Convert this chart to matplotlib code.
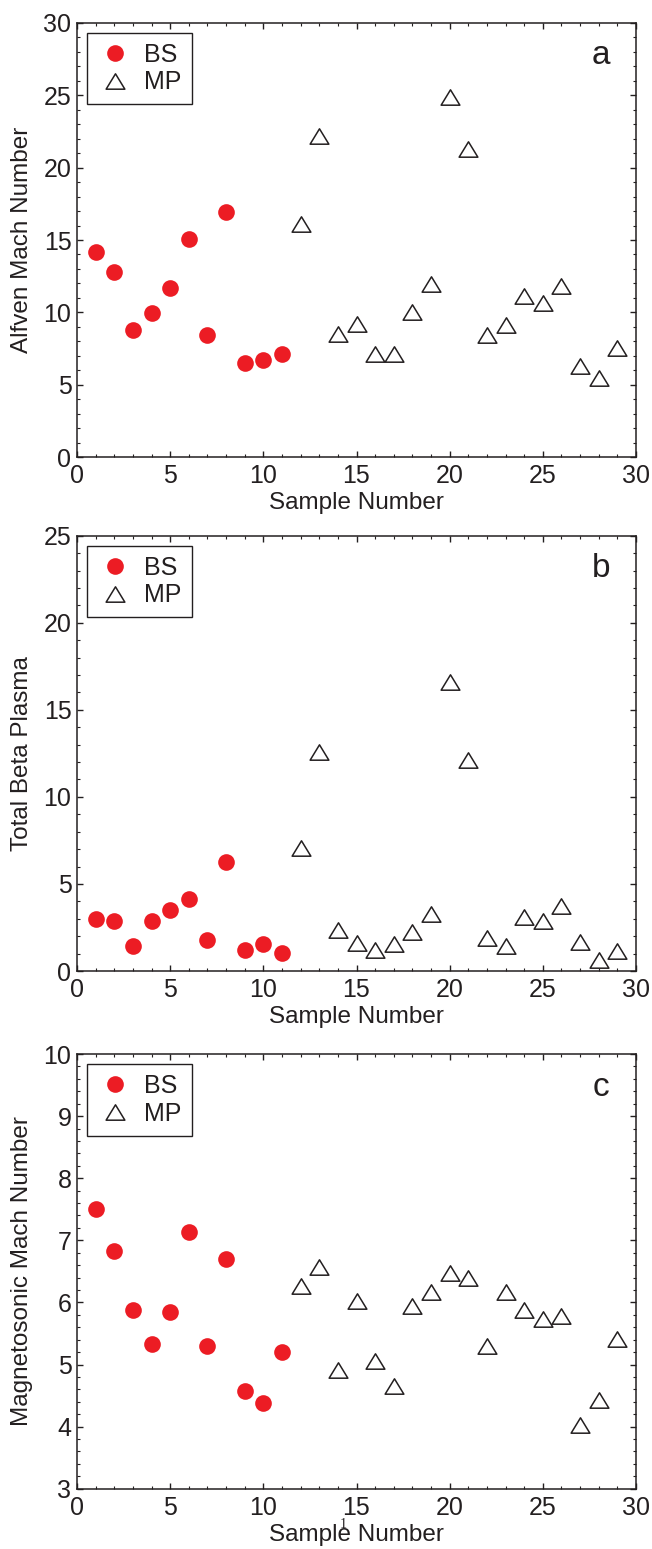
import matplotlib
matplotlib.use("Agg")
import matplotlib.pyplot as plt
from matplotlib.path import Path
from matplotlib.ticker import MultipleLocator

# ---------------- data ----------------
bs_samples = [1, 2, 3, 4, 5, 6, 7, 8, 9, 10, 11]
mp_samples = [12, 13, 14, 15, 16, 17, 18, 19, 20, 21, 22, 23, 24, 25, 26, 27, 28, 29]

bs_alfven = [14.15, 12.77, 8.76, 9.98, 11.66, 15.07, 8.44, 16.95, 6.49, 6.74, 7.15]
mp_alfven = [16.1, 22.2, 8.49, 9.18, 7.13, 7.1, 10.05, 11.94, 24.87, 21.28,
             8.46, 9.13, 11.15, 10.65, 11.8, 6.32, 5.45, 7.52]

bs_beta = [2.97, 2.89, 1.45, 2.87, 3.50, 4.12, 1.80, 6.26, 1.19, 1.57, 1.05]
mp_beta = [7.07, 12.6, 2.34, 1.59, 1.21, 1.55, 2.22, 3.27, 16.6, 12.14,
           1.88, 1.45, 3.12, 2.89, 3.75, 1.68, 0.63, 1.13]

bs_ms = [7.50, 6.83, 5.87, 5.33, 5.85, 7.13, 5.30, 6.70, 4.57, 4.38, 5.20]
mp_ms = [6.27, 6.57, 4.91, 6.02, 5.05, 4.66, 5.94, 6.17, 6.48, 6.39,
         5.29, 6.17, 5.87, 5.74, 5.78, 4.03, 4.43, 5.41]

ylabels = ["Alfven Mach Number", "Total Beta Plasma", "Magnetosonic Mach Number"]
panel_letters = ["a", "b", "c"]
ylims = [(0, 30), (0, 25), (3, 10)]
y_major = [5, 5, 1]
y_minor = [1, 1, 0.2]
xlabel = "Sample Number"
legend_labels = ["BS", "MP"]

# ---------------- style ----------------
INK = "#231F20"
RED = "#EC1C24"
plt.rcParams["font.family"] = ["Liberation Sans", "DejaVu Sans"]
plt.rcParams["text.color"] = INK
plt.rcParams["axes.edgecolor"] = INK
plt.rcParams["xtick.color"] = INK
plt.rcParams["ytick.color"] = INK
plt.rcParams["axes.labelcolor"] = INK

tri = Path([(-1, -0.82), (1, -0.82), (0, 0.82), (-1, -0.82)],
           [Path.MOVETO, Path.LINETO, Path.LINETO, Path.CLOSEPOLY])

W, H = 652, 1549
fig = plt.figure(figsize=(W / 100, H / 100), dpi=100)

# axes boxes in pixels: (left, top, right, bottom)
boxes = [(77, 22.7, 636, 457.3), (77, 535.7, 636, 971.0), (77, 1054.0, 636, 1488.7)]

series = [(bs_alfven, mp_alfven), (bs_beta, mp_beta), (bs_ms, mp_ms)]

for i, (l, t, r, b) in enumerate(boxes):
    ax = fig.add_axes([l / W, 1 - b / H, (r - l) / W, (b - t) / H])
    bs_vals, mp_vals = series[i]
    ax.plot(bs_samples, bs_vals, linestyle="none", marker="o", markersize=12,
            markerfacecolor=RED, markeredgecolor=RED, markeredgewidth=0, label=legend_labels[0])
    ax.plot(mp_samples, mp_vals, linestyle="none", marker=tri, markersize=13.5,
            markerfacecolor="white", markeredgecolor=INK, markeredgewidth=1.1, label=legend_labels[1])
    ax.set_xlim(0, 30)
    ax.set_ylim(*ylims[i])
    ax.xaxis.set_major_locator(MultipleLocator(5))
    ax.xaxis.set_minor_locator(MultipleLocator(1))
    ax.yaxis.set_major_locator(MultipleLocator(y_major[i]))
    ax.yaxis.set_minor_locator(MultipleLocator(y_minor[i]))
    ax.tick_params(which="both", direction="in", top=True, right=True, labelsize=18)
    ax.tick_params(which="major", length=4.3, width=1.0)
    ax.tick_params(which="minor", length=2.2, width=0.8)
    ax.tick_params(axis="x", which="major", pad=5)
    ax.tick_params(axis="y", which="major", pad=4)
    for s in ax.spines.values():
        s.set_linewidth(1.1)
    ax.set_xlabel(xlabel, fontsize=17.5)
    ax.xaxis.set_label_coords(0.5, -35.0 / (b - t))
    ax.set_ylabel(ylabels[i], fontsize=17.5)
    ax.yaxis.set_label_coords(-(l - 33) / (r - l), 0.5)
    ax.text(0.937, 0.904, panel_letters[i], transform=ax.transAxes, fontsize=24,
            ha="center", va="baseline")
    leg = ax.legend(loc="upper left", fontsize=18, frameon=True, fancybox=False,
                    borderaxespad=0.4, borderpad=0.4, handlelength=1.4,
                    handletextpad=0.5, labelspacing=0.15, numpoints=1)
    leg.get_frame().set_edgecolor(INK)
    leg.get_frame().set_linewidth(1.0)
    leg.get_frame().set_alpha(None)
    leg.get_frame().set_facecolor("white")

# page number overlapping the last label (as in the scanned source)
fig.text(343 / W, 1 - 1525 / H, "1", fontsize=10, family=["Liberation Serif", "DejaVu Serif"],
         ha="center", va="center", color=INK)

fig.savefig("out.png", dpi=100)
